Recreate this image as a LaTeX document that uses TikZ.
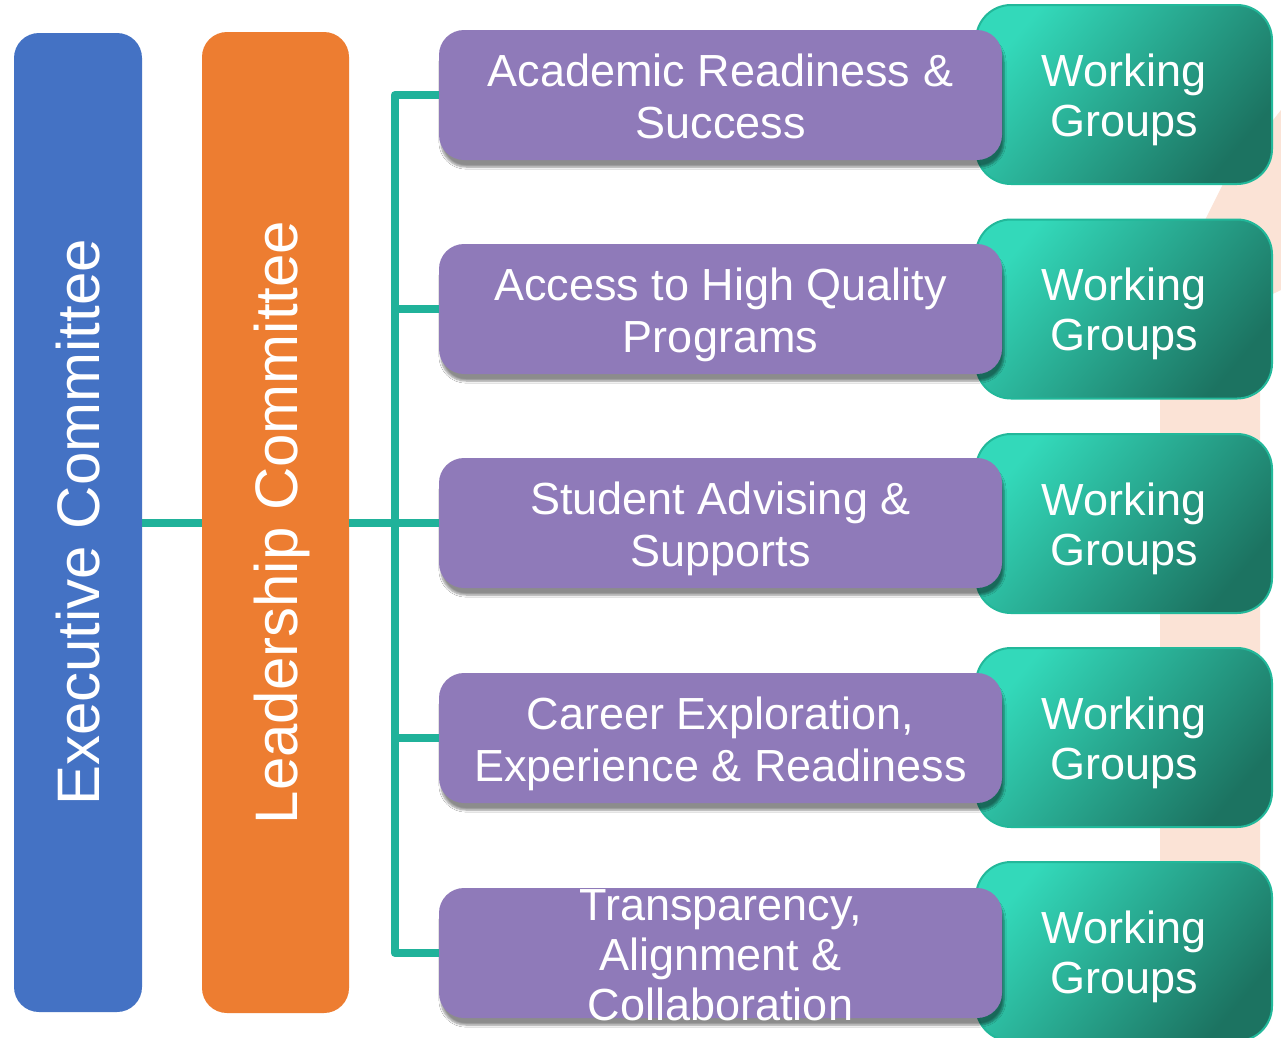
\documentclass[tikz,border=0pt]{standalone}
\usepackage{fontspec}
\setmainfont{Liberation Sans}
\usetikzlibrary{shadows.blur}
\definecolor{execblue}{RGB}{68,114,196}
\definecolor{leadorange}{RGB}{237,125,49}
\definecolor{purp}{RGB}{143,122,185}
\definecolor{tealline}{RGB}{32,178,154}
\definecolor{teallight}{RGB}{51,217,186}
\definecolor{tealdark}{RGB}{28,115,97}
\definecolor{tealborder}{RGB}{34,184,154}
\definecolor{peach}{RGB}{251,227,214}
\newcommand{\lastdp}{\vphantom{gp}}
\tikzset{
  bar/.style={rounded corners=25pt, inner sep=0pt, text=white,
    font=\fontsize{60}{72}\selectfont},
  purpbox/.style={fill=purp, rounded corners=25pt, minimum width=563pt,
    minimum height=130pt, inner sep=0pt,
    blur shadow={shadow xshift=2pt, shadow yshift=-7pt, shadow blur steps=6, shadow opacity=45}},
  ptext/.style={text=white, align=center, inner sep=0pt, font=\fontsize{45}{52}\selectfont},
  wgbox/.style={draw=tealborder, line width=2pt, rounded corners=35pt,
    minimum width=296pt, minimum height=179pt, inner sep=0pt,
    top color=teallight, bottom color=tealdark, shading angle=50},
  wgtext/.style={text=white, align=center, inner sep=0pt, font=\fontsize{45}{50}\selectfont},
  conn/.style={draw=tealline, line width=8pt, line join=round}
}
\begin{document}
\begin{tikzpicture}[x=1pt,y=-1pt]
\clip (0,0) rectangle (1281,1037);
\fill[white] (0,0) rectangle (1281,1037);
% background decoration
\fill[peach] (1281,110) -- (1223,184) -- (1195,240) -- (1160,300) -- (1160,880)
  -- (1260,880) -- (1260,300) -- (1281,290) -- cycle;
% working groups
\foreach \i/\y in {1/94.5,2/309,3/523.5,4/737.5,5/951.5}{
  \node[wgbox] (g\i) at (1124,\y) {};
  \node[wgtext] (g\i t) at ([yshift=-5pt]g\i.center) {Working\\Groups};
}
% committees
\node[bar, fill=execblue, minimum width=128pt, minimum height=979pt] (exec) at (78,522.5)
  {\rotatebox{90}{Executive Committee}};
\node[bar, fill=leadorange, minimum width=147pt, minimum height=981pt] (lead) at (275.5,522.5)
  {\rotatebox{90}{\raisebox{0pt}[\height][0pt]{Leadership Committee}}};
% focus areas
\node[purpbox] (p1) at (720.5,95) {};
\node[purpbox] (p2) at (720.5,309) {};
\node[purpbox] (p3) at (720.5,523) {};
\node[purpbox] (p4) at (720.5,738) {};
\node[purpbox] (p5) at (720.5,953) {};
\node[ptext] (p1t) at ([yshift=-6pt]p1.center) {Academic Readiness \&\\Success\lastdp};
\node[ptext] (p2t) at ([yshift=-6pt]p2.center) {Access to High Quality\\Programs\lastdp};
\node[ptext] (p3t) at ([yshift=-6pt]p3.center) {Student Advising \&\\Supports\lastdp};
\node[ptext] (p4t) at ([yshift=-6pt]p4.center) {Career Exploration,\\Experience \& Readiness\lastdp};
\node[ptext, font=\fontsize{45}{50}\selectfont] (p5t) at (720.5,955) {Transparency,\\Alignment \&\\Collaboration};
% connectors
\draw[conn] (exec.east) -- (lead.west);
\draw[conn] (lead.east) -- (lead.east -| p3.west);
\draw[conn] (p1.west) -- ++(-44,0) |- (p5.west);
\draw[conn] (p2.west) -- ++(-44,0);
\draw[conn] (p4.west) -- ++(-44,0);
\end{tikzpicture}
\end{document}
